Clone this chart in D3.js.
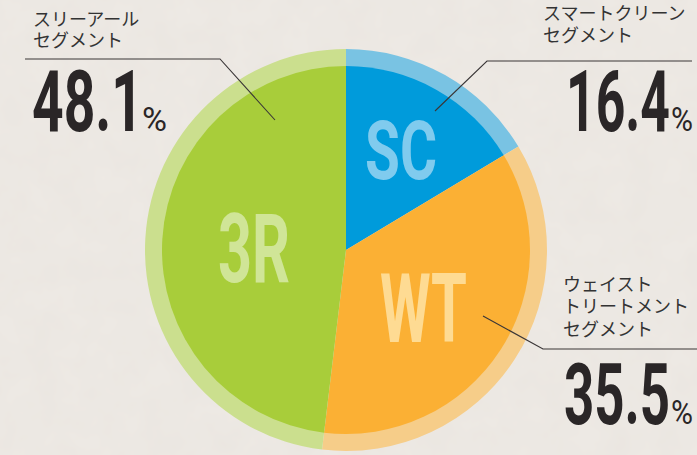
<!DOCTYPE html>
<html>
<head>
<meta charset="utf-8">
<script src="https://cdn.jsdelivr.net/npm/d3@7"></script>
<style>
  html, body { margin: 0; padding: 0; background: #eeeae5; }
  svg { display: block; }
</style>
</head>
<body>
<svg id="chart" width="697" height="455"></svg>
<script>
(function() {
  // Data, clockwise from 12 o'clock
  const codes = ["SC", "WT", "3R"];
  const shares = [16.4, 35.5, 48.1];
  const names = [
    ["スマートクリーン", "セグメント"],
    ["ウェイスト", "トリートメント", "セグメント"],
    ["スリーアール", "セグメント"]
  ];
  const fillColors = ["#009bdb", "#fbb034", "#a8cd3a"];
  const ringColors = ["#79c3e3", "#f6cd89", "#cbdf8e"];
  const codeColors = ["#80cbee", "#fedb93", "#d0e597"];

  const INK = "#2a2627";
  const NUM_FONT = "Roboto, 'DejaVu Sans', sans-serif";
  const JP_FONT = "'Noto Sans CJK JP', sans-serif";

  const width = 697, height = 455;
  const cx = 346, cy = 250;
  const rInner = 184, rOuter = 201;

  const svg = d3.select("#chart");

  // paper texture
  const defs = svg.append("defs");
  const f = defs.append("filter").attr("id", "paper")
    .attr("x", 0).attr("y", 0).attr("width", "100%").attr("height", "100%");
  f.append("feTurbulence").attr("type", "fractalNoise")
    .attr("baseFrequency", 0.035).attr("numOctaves", 3).attr("seed", 4);
  f.append("feColorMatrix").attr("type", "matrix")
    .attr("values", "0 0 0 0 0.55  0 0 0 0 0.5  0 0 0 0 0.45  0 0 0 0.09 0");
  svg.append("rect").attr("width", width).attr("height", height).attr("fill", "#eeeae5");
  svg.append("rect").attr("width", width).attr("height", height).attr("filter", "url(#paper)");

  const data = codes.map((c, i) => ({ code: c, value: shares[i], i }));
  const pie = d3.pie().sort(null).value(d => d.value);
  const arcs = pie(data);

  const g = svg.append("g").attr("transform", `translate(${cx},${cy})`);

  const ringArc = d3.arc().innerRadius(rInner - 2).outerRadius(rOuter);
  const fillArc = d3.arc().innerRadius(0).outerRadius(rInner);

  g.selectAll(".ring")
    .data(arcs)
    .join("path")
    .attr("class", "ring")
    .attr("d", ringArc)
    .attr("fill", d => ringColors[d.data.i]);

  g.selectAll(".slice")
    .data(arcs)
    .join("path")
    .attr("class", "slice")
    .attr("d", fillArc)
    .attr("fill", d => fillColors[d.data.i]);

  // text squeezed horizontally into a box [x0, x1]
  function fitText(parent, str, x0, x1, baseline, size, color, weight) {
    const t = parent.append("text")
      .attr("font-family", NUM_FONT)
      .attr("font-weight", weight || 700)
      .attr("font-size", size)
      .attr("fill", color)
      .text(str);
    const bb = t.node().getBBox();
    const sx = (x1 - x0) / bb.width;
    t.attr("transform", `translate(${x0 - bb.x * sx},${baseline}) scale(${sx},1)`);
    return t;
  }

  // code labels inside slices
  const codeBoxes = {
    SC: { x0: 365, x1: 437, base: 179, size: 82 },
    WT: { x0: 380, x1: 467, base: 342, size: 96 },
    "3R": { x0: 218, x1: 290, base: 282, size: 96 }
  };
  data.forEach(d => {
    const b = codeBoxes[d.code];
    fitText(svg, d.code, b.x0, b.x1, b.base, b.size, codeColors[d.i]);
  });

  // callouts: segment name, leader line, percentage
  const callouts = {
    SC: {
      tx: 543, lines: [20, 42],
      leader: [[435, 111], [487, 61], [692, 61]],
      num: { x0: 566, x1: 670, base: 131 }, pct: { x0: 671, x1: 693, base: 131 }
    },
    WT: {
      tx: 563, lines: [291, 313, 336],
      leader: [[483, 316], [543, 349], [697, 349]],
      num: { x0: 564, x1: 670, base: 424 }, pct: { x0: 671, x1: 693, base: 424 }
    },
    "3R": {
      tx: 33, lines: [26, 47],
      leader: [[275, 120], [220, 59], [25, 59]],
      num: { x0: 32, x1: 143, base: 131 }, pct: { x0: 142, x1: 167, base: 131 }
    }
  };

  const line = d3.line();
  data.forEach(d => {
    const c = callouts[d.code];
    svg.append("path")
      .attr("d", line(c.leader))
      .attr("fill", "none")
      .attr("stroke", "#3a3637")
      .attr("stroke-width", 1.1);

    const t = svg.append("text")
      .attr("font-family", JP_FONT)
      .attr("font-size", 18)
      .attr("fill", "#333");
    names[d.i].forEach((s, k) => {
      t.append("tspan").attr("x", c.tx).attr("y", c.lines[k]).text(s);
    });

    fitText(svg, d3.format(".1f")(d.value), c.num.x0, c.num.x1, c.num.base, 86, INK);
    fitText(svg, "%", c.pct.x0, c.pct.x1, c.pct.base, 33, INK, 400);
  });
})();
</script>
</body>
</html>
